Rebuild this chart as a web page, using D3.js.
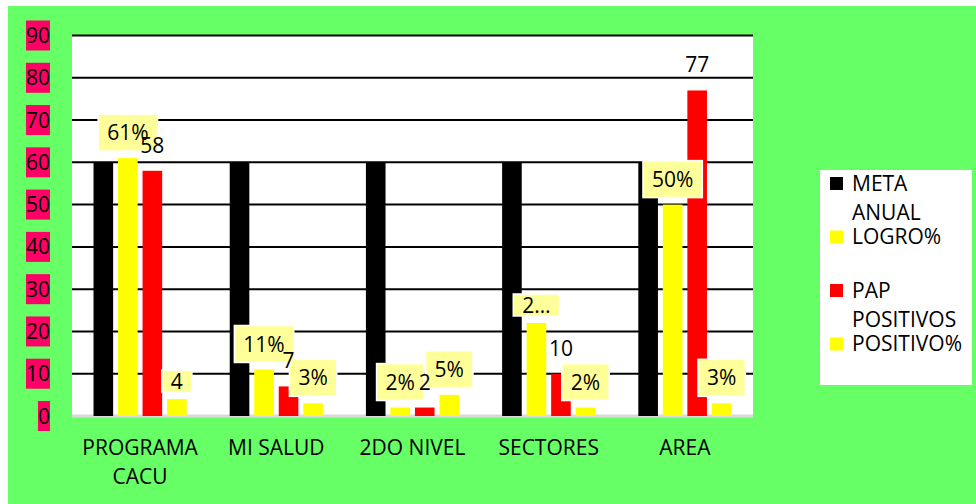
<!DOCTYPE html>
<html>
<head>
<meta charset="utf-8">
<script src="https://cdn.jsdelivr.net/npm/d3@7"></script>
<style>
	body { margin: 0; background: #fff; }
	svg text { font-family: 'Open Sans', sans-serif; }
</style>
</head>
<body>
<div id="chart"></div>
<script>
// data
const categories = ['PROGRAMA CACU', 'MI SALUD', '2DO NIVEL', 'SECTORES', 'AREA']
const seriesNames = ['META ANUAL', 'LOGRO%', 'PAP POSITIVOS', 'POSITIVO%']
const metaAnual = [60, 60, 60, 60, 60]
const logro = [61, 11, 2, 22, 50]
const papPositivos = [58, 7, 2, 10, 77]
const positivo = [4, 3, 5, 2, 3]
const logroLabels = ['61%', '11%', '2%', '2…', '50%']
const papLabels = ['58', '7', '2', '10', '77']
const positivoLabels = ['4', '3%', '5%', '2%', '3%']
const yTicks = [0, 10, 20, 30, 40, 50, 60, 70, 80, 90]

const colors = ['#000000', '#ffff00', '#ff0000', '#ffff00']
const seriesValues = [metaAnual, logro, papPositivos, positivo]
const seriesLabels = [null, logroLabels, papLabels, positivoLabels]

const W = 976, H = 504
const plot = { left: 72, right: 753, top: 35.5, bottom: 416 }

const svg = d3.select('#chart')
	.append('svg')
	.attr('width', W)
	.attr('height', H)

svg.append('rect')
	.attr('x', 8).attr('y', 6)
	.attr('width', W - 8).attr('height', H - 6)
	.attr('fill', '#66ff66')

svg.append('rect')
	.attr('x', plot.left).attr('y', plot.top)
	.attr('width', plot.right - plot.left).attr('height', plot.bottom - plot.top)
	.attr('fill', '#fff')

const x = d3.scaleBand()
	.domain(categories)
	.range([plot.left, plot.right])
	.paddingInner(0.28)
	.paddingOuter(0.14)

const xs = d3.scaleBand()
	.domain(seriesNames)
	.range([0, x.bandwidth()])
	.paddingInner(0.2)
	.paddingOuter(0.1)

const y = d3.scaleLinear()
	.domain([0, 90])
	.range([plot.bottom, plot.top])

// gridlines
svg.append('g')
	.selectAll('line')
	.data(yTicks)
	.enter()
	.append('line')
	.attr('x1', plot.left)
	.attr('x2', plot.right)
	.attr('y1', d => y(d))
	.attr('y2', d => y(d))
	.attr('stroke', d => d === 0 ? '#d9d9d9' : '#000')
	.attr('stroke-width', d => d === 0 ? 3 : 2)

// y tick labels on pink boxes
const tickG = svg.append('g')
	.selectAll('g')
	.data(yTicks)
	.enter()
	.append('g')
	.attr('transform', d => `translate(50,${y(d)})`)

tickG.append('text')
	.attr('text-anchor', 'end')
	.attr('dy', '0.36em')
	.attr('font-size', 21)
	.attr('fill', '#000')
	.text(d => d)

tickG.each(function () {
	const g = d3.select(this)
	const bb = g.select('text').node().getBBox()
	g.insert('rect', 'text')
		.attr('x', bb.x)
		.attr('y', -15)
		.attr('width', bb.width)
		.attr('height', 30)
		.attr('fill', '#ff0066')
})

// bars
const rows = []
categories.forEach((c, i) => {
	seriesNames.forEach((s, j) => {
		rows.push({ cat: c, series: s, j: j, value: seriesValues[j][i], label: seriesLabels[j] ? seriesLabels[j][i] : null })
	})
})

svg.append('g')
	.selectAll('rect')
	.data(rows)
	.enter()
	.append('rect')
	.attr('x', d => x(d.cat) + xs(d.series))
	.attr('y', d => y(d.value))
	.attr('width', xs.bandwidth())
	.attr('height', d => y(0) - y(d.value))
	.attr('fill', d => colors[d.j])

// boxed labels (LOGRO%, POSITIVO%)
const boxed = svg.append('g')
	.selectAll('g')
	.data(rows.filter(d => d.j === 1 || d.j === 3))
	.enter()
	.append('g')
	.attr('transform', d => {
		const h = d.label.includes('%') ? 37 : 22
		return `translate(${x(d.cat) + xs(d.series) + xs.bandwidth() / 2},${y(d.value) - 7 - h / 2})`
	})

boxed.append('text')
	.attr('text-anchor', 'middle')
	.attr('dy', '0.36em')
	.attr('font-size', 21)
	.text(d => d.label)

boxed.each(function (d) {
	const g = d3.select(this)
	const bb = g.select('text').node().getBBox()
	const h = d.label.includes('%') ? 37 : 22
	g.insert('rect', 'text')
		.attr('x', bb.x - 9)
		.attr('y', -h / 2)
		.attr('width', bb.width + 18)
		.attr('height', h)
		.attr('fill', '#ffff99')
		.attr('stroke', '#fff')
		.attr('stroke-width', 1.5)
})

// plain labels (PAP POSITIVOS), drawn over the boxes
svg.append('g')
	.selectAll('text')
	.data(rows.filter(d => d.j === 2))
	.enter()
	.append('text')
	.attr('x', d => x(d.cat) + xs(d.series) + xs.bandwidth() / 2)
	.attr('y', d => y(d.value) - 18)
	.attr('text-anchor', 'middle')
	.attr('font-size', 21)
	.text(d => d.label)

// category labels
svg.append('g')
	.selectAll('text')
	.data(categories)
	.enter()
	.append('text')
	.attr('x', d => x(d) + x.bandwidth() / 2)
	.attr('y', 455)
	.attr('text-anchor', 'middle')
	.attr('font-size', 21)
	.each(function (d) {
		const words = d === 'PROGRAMA CACU' ? ['PROGRAMA', 'CACU'] : [d]
		d3.select(this).selectAll('tspan')
			.data(words)
			.enter()
			.append('tspan')
			.attr('x', x(d) + x.bandwidth() / 2)
			.attr('dy', (w, i) => i === 0 ? 0 : 29)
			.text(w => w)
	})

// legend
const legend = svg.append('g')
legend.append('rect')
	.attr('x', 820).attr('y', 170)
	.attr('width', 152).attr('height', 215)
	.attr('fill', '#fff')

const item = legend.selectAll('g')
	.data(seriesNames)
	.enter()
	.append('g')
	.attr('transform', (d, i) => `translate(830,${183 + i * 53.5})`)

item.append('rect')
	.attr('x', 0).attr('y', -6)
	.attr('width', 13).attr('height', 13)
	.attr('fill', (d, i) => colors[i])

item.append('text')
	.attr('font-size', 21)
	.each(function (d) {
		const parts = d === 'POSITIVO%' || d === 'LOGRO%' ? [d] : d.split(' ')
		d3.select(this).selectAll('tspan')
			.data(parts)
			.enter()
			.append('tspan')
			.attr('x', 22)
			.attr('y', (w, i) => 7.5 + i * 29.5)
			.text(w => w)
	})
</script>
</body>
</html>
